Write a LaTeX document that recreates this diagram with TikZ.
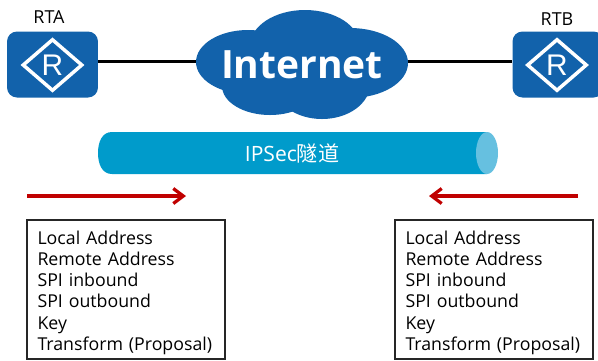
\documentclass[tikz,border=0pt]{standalone}
\usepackage{fontspec}
\setmainfont{Open Sans}
\newfontfamily\cjk{Noto Sans CJK SC}
\newfontfamily\markfont{Liberation Sans}
\usepackage{tikz}
\usetikzlibrary{shapes.geometric,arrows.meta}
\definecolor{routerblue}{HTML}{1262AB}
\definecolor{tubeblue}{HTML}{009BCB}
\definecolor{tubeend}{HTML}{66C0E0}
\definecolor{arrowred}{HTML}{C00000}
\newcommand{\salist}{\rule{0pt}{11.2pt}Local Address\\Remote Address\\SPI inbound\\SPI outbound\\Key\\Transform (Proposal)}
\tikzset{
  router/.style={fill=routerblue,rounded corners=0.2cm,minimum width=1.82cm,minimum height=1.32cm},
  routermark/.style={diamond,draw=white,line width=0.07cm,text=white,inner sep=0pt,minimum width=1.2cm,minimum height=1.04cm,font=\markfont\fontsize{17}{17}\selectfont},
  link/.style={line width=0.06cm,black},
  flow/.style={line width=0.065cm,arrowred,-{Straight Barb[length=0.2cm,width=0.3cm]}},
  infobox/.style={draw=black!85,line width=0.03cm,text width=3.54cm,minimum width=3.96cm,minimum height=2.78cm,inner xsep=0.2cm,inner ysep=0.02cm,align=left,font=\fontsize{10.1}{12.1}\selectfont},
  lab/.style={font=\fontsize{10.2}{12}\selectfont}
}
\begin{document}
\begin{tikzpicture}[x=0.02cm,y=-0.02cm]
  \useasboundingbox (0,0) rectangle (598,360);
  % routers
  \node[router] (rta) at (52.5,64.5) {};
  \node[router] (rtb) at (558,64.5) {};
  \node[routermark] (marka) at (52.5,65) {R};
  \node[routermark] (markb) at (557,65) {R};
  \node[lab] (nameA) at (49,17) {RTA};
  \node[lab] (nameB) at (557,19) {RTB};
  % cloud
  \coordinate (cloudl) at (196,61);
  \coordinate (cloudr) at (408,61);
  \draw[link] (rta.east |- cloudl) -- (cloudl);
  \draw[link] (cloudr) -- (rtb.west |- cloudr);
  \fill[routerblue] (248,62) ellipse (52 and 32);
  \fill[routerblue] (305,46) ellipse (55 and 36);
  \fill[routerblue] (350,63) ellipse (58 and 35);
  \fill[routerblue] (270,86) ellipse (48 and 29);
  \fill[routerblue] (322,84) ellipse (48 and 35);
  \node[text=white,font=\bfseries\fontsize{22.2}{23}\selectfont] (inet) at (302,65) {Internet};
  % tunnel
  \fill[tubeblue] (487,132) -- (112,132) .. controls (102,132) and (98,142) .. (98,153)
    .. controls (98,164) and (102,174) .. (112,174) -- (487,174) -- cycle;
  \fill[tubeend] (487,153) ellipse (11 and 21);
  \node[text=white,font=\fontsize{12}{14}\selectfont] (tunnel) at (292,153) {IPSec{\cjk 隧道}};
  % directions
  \coordinate (a1) at (27,196);
  \coordinate (a2) at (186,196);
  \coordinate (b1) at (578,196);
  \coordinate (b2) at (429,196);
  \draw[flow] (a1) -- (a2);
  \draw[flow] (b1) -- (b2);
  % parameters
  \node[infobox] (sa1) at (126,289.5) {\salist};
  \node[infobox] (sa2) at (494,289.5) {\salist};
\end{tikzpicture}
\end{document}
